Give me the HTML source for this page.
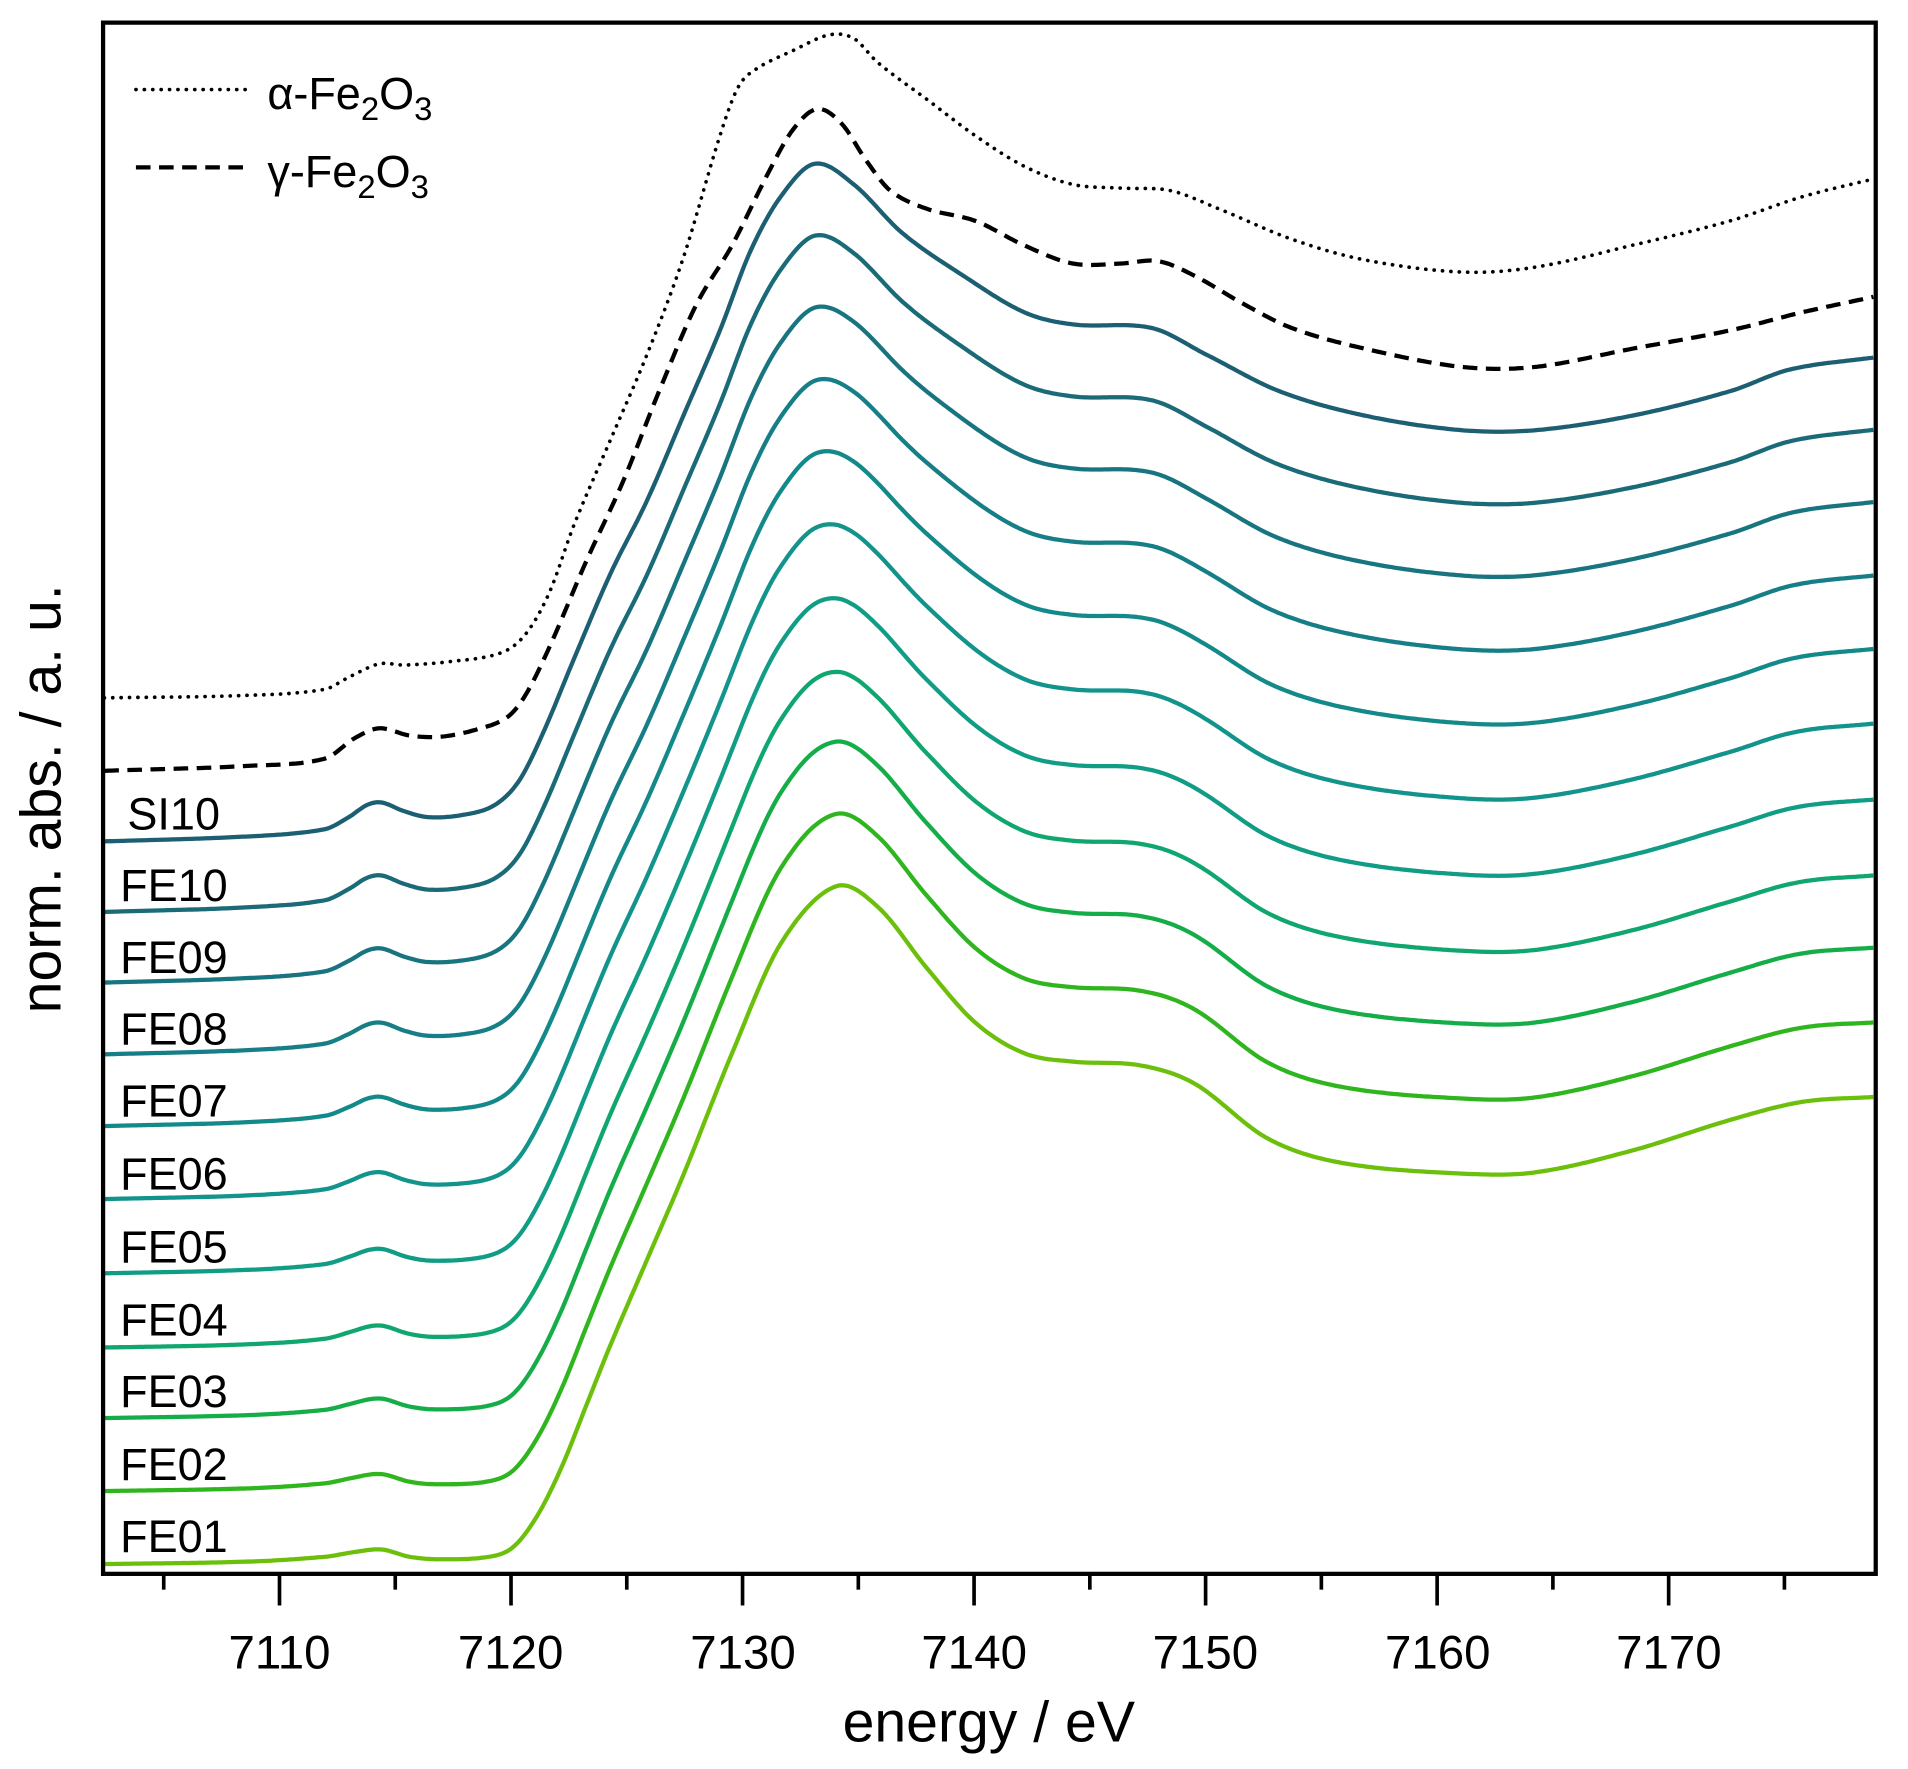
<!DOCTYPE html>
<html><head><meta charset="utf-8"><style>
html,body{margin:0;padding:0;background:#fff;}
svg{display:block;}
text{font-family:"Liberation Sans",Arial,sans-serif;fill:#000;}
</style></head><body>
<svg id="s" width="1908" height="1769" viewBox="-1.6 -1.6 1568 1454" xmlns="http://www.w3.org/2000/svg">
<rect x="-2" y="-2" width="1572" height="1458" fill="#fff"/>
<g id="curves" fill="none" stroke-width="3.5" stroke-linejoin="round"></g>
<rect x="83" y="17" width="1457" height="1275" fill="none" stroke="#000" stroke-width="3.5"/>
<g id="ticks" stroke="#000" stroke-width="3"></g>
<g font-size="39" text-anchor="middle">
<text x="228" y="1370">7110</text><text x="418" y="1370">7120</text><text x="609" y="1370">7130</text>
<text x="799" y="1370">7140</text><text x="989" y="1370">7150</text><text x="1180" y="1370">7160</text><text x="1370" y="1370">7170</text>
</g>
<text x="811" y="1430" font-size="47" text-anchor="middle">energy / eV</text>
<text transform="translate(48,655) rotate(-90)" font-size="47" text-anchor="middle">norm. abs. / a. u.</text>
<g font-size="37">
<text x="103" y="680">SI10</text><text x="97" y="739">FE10</text><text x="97" y="798">FE09</text>
<text x="97" y="857">FE08</text><text x="97" y="916">FE07</text><text x="97" y="976">FE06</text>
<text x="97" y="1036">FE05</text><text x="97" y="1096">FE04</text><text x="97" y="1155">FE03</text>
<text x="97" y="1215">FE02</text><text x="97" y="1274">FE01</text>
</g>
<line x1="110" y1="72" x2="205" y2="72" stroke="#000" stroke-width="3" stroke-dasharray="0.1 6.8" stroke-linecap="round"/>
<line x1="110" y1="136" x2="205" y2="136" stroke="#000" stroke-width="3.5" stroke-dasharray="12 7"/>
<text x="218" y="88" font-size="37">α-Fe<tspan font-size="27" dy="9">2</tspan><tspan dy="-9">O</tspan><tspan font-size="27" dy="9">3</tspan></text>
<text x="218" y="152" font-size="37">γ-Fe<tspan font-size="27" dy="9">2</tspan><tspan dy="-9">O</tspan><tspan font-size="27" dy="9">3</tspan></text>
</svg>
<script>
function mono(pts){var n=pts.length,xs=pts.map(p=>p[0]),ys=pts.map(p=>p[1]),m=[];
m[0]=(ys[1]-ys[0])/(xs[1]-xs[0]);m[n-1]=(ys[n-1]-ys[n-2])/(xs[n-1]-xs[n-2]);
for(var i=1;i<n-1;i++)m[i]=(ys[i+1]-ys[i-1])/(xs[i+1]-xs[i-1]);
return function(x){var k=0;while(k<n-2&&x>xs[k+1])k++;var h=xs[k+1]-xs[k],t=(x-xs[k])/h,t2=t*t,t3=t2*t;
return (2*t3-3*t2+1)*ys[k]+(t3-2*t2+t)*h*m[k]+(-2*t3+3*t2)*ys[k+1]+(t3-t2)*h*m[k+1];};}
var SI=mono([[83,0],[200,4],[265,10],[285,20],[300,30],[312,32],[330,25],[350,20],[380,22],[405,30],[425,50],[445,90],[470,150],[500,220],[530,280],[560,350],[590,420],[615,485],[640,530],[668,557],[700,540],[740,500],[790,465],[840,435],[880,425],[945,422],[990,400],[1050,370],[1120,350],[1200,338],[1260,338],[1340,350],[1420,370],[1470,388],[1540,398]]);
var F1=mono([[83,0],[200,2],[265,6],[290,10],[312,12],[335,6],[360,4],[400,6],[420,14],[440,40],[460,80],[480,130],[500,180],[530,250],[560,320],[600,420],[640,510],[685,557],[720,540],[760,490],[800,445],[840,420],[880,413],[935,410],[980,395],[1040,350],[1100,330],[1200,321],[1260,322],[1340,340],[1420,365],[1480,380],[1540,384]]);
var bases=[690,748,806,865,924,984,1045,1106,1164,1224,1284];
var cols=["#1d5f72","#1a6a78","#187580","#167e86","#14898a","#12938b","#109c85","#10a66f","#14ad48","#2fb51e","#6cc00c"];
var g=document.getElementById('curves'),NS="http://www.w3.org/2000/svg";
function add(d,c,extra){var p=document.createElementNS(NS,'path');p.setAttribute('d',d);p.setAttribute('stroke',c);if(extra)for(var k in extra)p.setAttribute(k,extra[k]);g.appendChild(p);}
for(var k=0;k<11;k++){var t=k/10,d="";for(var x=84;x<=1539;x+=2){var r=(1-t)*SI(x)+t*F1(x);d+=(x==84?"M":"L")+x+","+(bases[k]-r).toFixed(1);}add(d,cols[k]);}
function ref(pts,extra){var f=mono(pts),d="";for(var x=84;x<=1539;x+=2)d+=(x==84?"M":"L")+x+","+f(x).toFixed(1);add(d,"#000",extra);}
ref([[83,632],[200,628],[265,622],[290,605],[310,597],[335,603],[360,604],[390,598],[415,588],[430,570],[450,530],[480,460],[510,395],[540,320],[570,250],[600,200],[630,140],[650,105],[670,88],[690,100],[710,130],[730,155],[760,170],[800,180],[840,200],[880,215],[920,215],[950,213],[980,225],[1020,248],[1060,268],[1120,285],[1200,300],[1260,300],[1340,285],[1420,270],[1480,255],[1540,242]],{"stroke-dasharray":"12 7","stroke-width":"3.5"});
ref([[83,572],[200,570],[265,565],[285,555],[310,544],[330,545],[370,542],[410,535],[430,520],[450,485],[470,430],[500,360],[530,290],[560,210],[590,110],[605,70],[620,55],[650,40],[680,27],[700,30],[720,50],[760,80],[800,110],[840,135],[880,150],[920,153],[960,155],[1000,170],[1060,195],[1120,212],[1200,222],[1260,218],[1340,200],[1420,180],[1480,160],[1540,145]],{"stroke-dasharray":"0.1 6.8","stroke-linecap":"round","stroke-width":"3"});
var tk=document.getElementById('ticks');
for(var e=7105;e<=7175;e+=5){var x=228+(e-7110)*19.03,L=(e%10==0)?26:13;var l=document.createElementNS(NS,'line');l.setAttribute('x1',x);l.setAttribute('x2',x);l.setAttribute('y1',1292);l.setAttribute('y2',1292+L);tk.appendChild(l);}
</script>
</body></html>
